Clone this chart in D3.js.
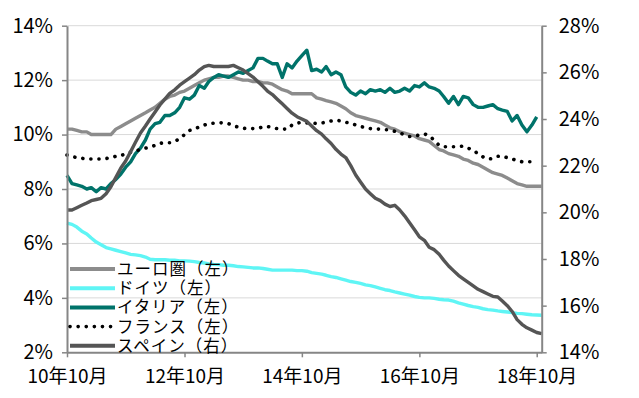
<!DOCTYPE html>
<html>
<head>
<meta charset="utf-8">
<script src="https://cdn.jsdelivr.net/npm/d3@7"></script>
<style>
  body { margin: 0; background: #fff; }
  svg text { font-family: "Noto Sans CJK JP", "Noto Sans", sans-serif; fill: #000; }
</style>
</head>
<body>
<svg width="639" height="398"></svg>
<script>
// monthly, Oct 2010 .. Nov 2018
var months = d3.timeMonth.range(new Date(2010, 9, 1), new Date(2018, 11, 1));

var seriesNames = ["ユーロ圏（左）", "ドイツ（左）", "イタリア（左）", "フランス（左）", "スペイン（右）"];

var euro = [10.2, 10.2, 10.15, 10.1, 10.1, 10.0, 10.0, 10.0, 10.0, 10.0,
    10.2, 10.3, 10.4, 10.5, 10.6, 10.7, 10.8, 10.9, 11.0, 11.15,
    11.3, 11.4, 11.45, 11.55, 11.6, 11.7, 11.8, 11.9, 12.0, 12.05,
    12.1, 12.1, 12.15, 12.15, 12.1, 12.05, 12.0, 12.0, 11.95, 11.95,
    11.9, 11.9, 11.85, 11.75, 11.65, 11.6, 11.5, 11.5, 11.5, 11.5,
    11.5, 11.35, 11.3, 11.25, 11.2, 11.15, 11.05, 10.95, 10.8, 10.7,
    10.65, 10.6, 10.55, 10.5, 10.45, 10.35, 10.25, 10.2, 10.1, 10.05,
    10.0, 9.95, 9.85, 9.8, 9.75, 9.6, 9.45, 9.4, 9.3, 9.25,
    9.2, 9.1, 9.05, 8.95, 8.9, 8.8, 8.7, 8.6, 8.55, 8.5,
    8.4, 8.3, 8.2, 8.15, 8.1, 8.1, 8.1, 8.1];

var germany = [6.75, 6.7, 6.6, 6.45, 6.35, 6.2, 6.05, 5.95, 5.85, 5.8,
    5.75, 5.7, 5.65, 5.6, 5.58, 5.55, 5.5, 5.42, 5.4, 5.4,
    5.4, 5.38, 5.38, 5.36, 5.36, 5.35, 5.33, 5.3, 5.28, 5.25,
    5.23, 5.22, 5.2, 5.2, 5.18, 5.15, 5.14, 5.12, 5.1, 5.1,
    5.08, 5.05, 5.02, 5.02, 5.02, 5.02, 5.02, 5.0, 5.0, 4.98,
    4.93, 4.9, 4.87, 4.83, 4.78, 4.75, 4.7, 4.65, 4.6, 4.57,
    4.53, 4.48, 4.45, 4.4, 4.35, 4.3, 4.27, 4.22, 4.18, 4.14,
    4.1, 4.05, 4.02, 4.0, 4.0, 3.98, 3.95, 3.93, 3.92, 3.88,
    3.82, 3.77, 3.72, 3.68, 3.65, 3.6, 3.57, 3.55, 3.52, 3.5,
    3.48, 3.46, 3.43, 3.42, 3.4, 3.38, 3.37, 3.36];

var italy = [8.5, 8.2, 8.15, 8.1, 8.0, 8.05, 7.9, 8.05, 8.0, 8.2,
    8.35, 8.55, 8.8, 9.0, 9.3, 9.5, 9.8, 10.2, 10.4, 10.45,
    10.7, 10.7, 10.8, 11.0, 11.35, 11.3, 11.45, 11.8, 11.7, 11.95,
    12.1, 12.2, 12.15, 12.1, 12.2, 12.3, 12.25, 12.35, 12.45, 12.8,
    12.8, 12.7, 12.6, 12.6, 12.1, 12.6, 12.45, 12.7, 12.9, 13.1,
    12.35, 12.4, 12.3, 12.5, 12.2, 12.3, 12.2, 11.75, 11.55, 11.45,
    11.6, 11.5, 11.65, 11.6, 11.65, 11.55, 11.7, 11.55, 11.6, 11.7,
    11.6, 11.8, 11.75, 11.9, 11.75, 11.7, 11.6, 11.4, 11.15, 11.4,
    11.1, 11.4, 11.35, 11.1, 11.0, 11.0, 11.05, 11.1, 10.95, 10.9,
    10.85, 10.5, 10.7, 10.35, 10.1, 10.35, 10.65];

var france = [9.25, 9.2, 9.15, 9.13, 9.1, 9.1, 9.1, 9.1, 9.12, 9.15,
    9.2, 9.22, 9.3, 9.35, 9.4, 9.45, 9.5, 9.55, 9.6, 9.68,
    9.7, 9.7, 9.75, 9.85, 10.0, 10.15, 10.2, 10.28, 10.35, 10.4,
    10.42, 10.43, 10.43, 10.4, 10.33, 10.27, 10.23, 10.22, 10.22, 10.23,
    10.28, 10.3, 10.25, 10.22, 10.2, 10.2, 10.35, 10.42, 10.45, 10.43,
    10.42, 10.41, 10.43, 10.45, 10.5, 10.53, 10.5, 10.45, 10.42, 10.35,
    10.3, 10.25, 10.22, 10.2, 10.2, 10.18, 10.17, 10.12, 10.05, 10.0,
    9.93, 9.95, 9.98, 10.03, 9.95, 9.8, 9.6, 9.55, 9.55, 9.55,
    9.55, 9.58, 9.5, 9.42, 9.3, 9.18, 9.1, 9.12, 9.2, 9.21,
    9.15, 9.1, 9.05, 9.0, 9.0, 9.0, 9.0];

var spain = [20.1, 20.1, 20.2, 20.3, 20.4, 20.5, 20.55, 20.6, 20.8, 21.1,
    21.5, 21.9, 22.2, 22.6, 23.0, 23.4, 23.7, 24.0, 24.3, 24.6,
    24.85, 25.1, 25.25, 25.45, 25.6, 25.75, 25.9, 26.1, 26.25, 26.3,
    26.25, 26.25, 26.25, 26.25, 26.3, 26.2, 26.1, 25.95, 25.8, 25.6,
    25.4, 25.2, 25.05, 24.85, 24.65, 24.45, 24.25, 24.1, 24.0, 23.9,
    23.7, 23.5, 23.35, 23.15, 22.95, 22.7, 22.5, 22.35, 22.0, 21.6,
    21.3, 21.0, 20.8, 20.6, 20.5, 20.35, 20.25, 20.3, 20.1, 19.85,
    19.55, 19.25, 18.95, 18.8, 18.5, 18.4, 18.2, 17.95, 17.7, 17.5,
    17.3, 17.15, 17.0, 16.85, 16.7, 16.6, 16.5, 16.4, 16.37, 16.2,
    16.0, 15.75, 15.4, 15.2, 15.05, 14.95, 14.85, 14.8];

var leftTicks = [2, 4, 6, 8, 10, 12, 14];
var rightTicks = [14, 16, 18, 20, 22, 24, 26, 28];
var xTickDates = [new Date(2010, 9, 1), new Date(2012, 9, 1), new Date(2014, 9, 1), new Date(2016, 9, 1), new Date(2018, 9, 1)];
var xTickLabels = ["10年10月", "12年10月", "14年10月", "16年10月", "18年10月"];

var svg = d3.select("svg");
var plotLeft = 67, plotRight = 541.7, plotTop = 25.7, plotBottom = 352.3;
var axisColor = "#868686";

var x = d3.scaleTime()
    .domain([months[0], months[months.length - 1]])
    .range([plotLeft, plotRight]);
var yL = d3.scaleLinear().domain([2, 14]).range([plotBottom, plotTop]);
var yR = d3.scaleLinear().domain([14, 28]).range([plotBottom, plotTop]);

// grid
svg.append("g")
    .selectAll("line")
    .data(leftTicks.slice(1))
    .enter().append("line")
    .attr("x1", plotLeft).attr("x2", plotRight)
    .attr("y1", function(d) { return yL(d); })
    .attr("y2", function(d) { return yL(d); })
    .attr("stroke", "#d9d9d9")
    .attr("stroke-width", 1);

var series = [
    { name: seriesNames[0], values: euro, y: yL, color: "#8c8c8c", dash: null },
    { name: seriesNames[1], values: germany, y: yL, color: "#5ff5f5", dash: null },
    { name: seriesNames[2], values: italy, y: yL, color: "#00736a", dash: null },
    { name: seriesNames[3], values: france, y: yL, color: "#000000", dash: "0.1 8" },
    { name: seriesNames[4], values: spain, y: yR, color: "#555555", dash: null }
];

series.forEach(function(s) {
    var line = d3.line()
        .x(function(d, i) { return x(months[i]); })
        .y(function(d) { return s.y(d); });
    svg.append("path")
        .datum(s.values)
        .attr("d", line)
        .attr("fill", "none")
        .attr("stroke", s.color)
        .attr("stroke-width", s.dash ? 3.6 : 3.4)
        .attr("stroke-linejoin", "round")
        .attr("stroke-linecap", s.dash ? "round" : "butt")
        .attr("stroke-dasharray", s.dash);
});

// axes
function styleAxis(g) {
    g.select(".domain").attr("stroke", axisColor).attr("stroke-width", 2);
    g.selectAll(".tick line").attr("stroke", axisColor).attr("stroke-width", 1.5);
    g.selectAll(".tick text").attr("fill", "#000");
}

svg.append("g")
    .attr("transform", "translate(" + plotLeft + ",0)")
    .call(d3.axisLeft(yL).tickValues(leftTicks).tickSize(5).tickSizeOuter(0)
        .tickPadding(9).tickFormat(function(d) { return d + "%"; }))
    .call(styleAxis)
    .selectAll(".tick text").style("font-size", "20px");

svg.append("g")
    .attr("transform", "translate(" + plotRight + ",0)")
    .call(d3.axisRight(yR).tickValues(rightTicks).tickSize(5).tickSizeOuter(0)
        .tickPadding(12).tickFormat(function(d) { return d + "%"; }))
    .call(styleAxis)
    .selectAll(".tick text").style("font-size", "20px");

svg.append("g")
    .attr("transform", "translate(0," + plotBottom + ")")
    .call(d3.axisBottom(x).tickValues(xTickDates).tickSize(5).tickSizeOuter(0)
        .tickPadding(12).tickFormat(function(d, i) { return xTickLabels[i]; }))
    .call(styleAxis)
    .selectAll(".tick text").style("font-size", "19px");

// legend
var legend = svg.append("g")
    .selectAll("g")
    .data(series)
    .enter().append("g")
    .attr("transform", function(d, i) { return "translate(70," + (269 + i * 19.2) + ")"; });

legend.append("line")
    .attr("x1", 0).attr("x2", 45)
    .attr("stroke", function(d) { return d.color; })
    .attr("stroke-width", function(d) { return d.dash ? 3.6 : 4; })
    .attr("stroke-linecap", function(d) { return d.dash ? "round" : "butt"; })
    .attr("stroke-dasharray", function(d) { return d.dash; });

legend.append("text")
    .attr("x", 47)
    .attr("y", 6)
    .style("font-size", "16.5px")
    .style("letter-spacing", "1px")
    .text(function(d) { return d.name; });
</script>
</body>
</html>
